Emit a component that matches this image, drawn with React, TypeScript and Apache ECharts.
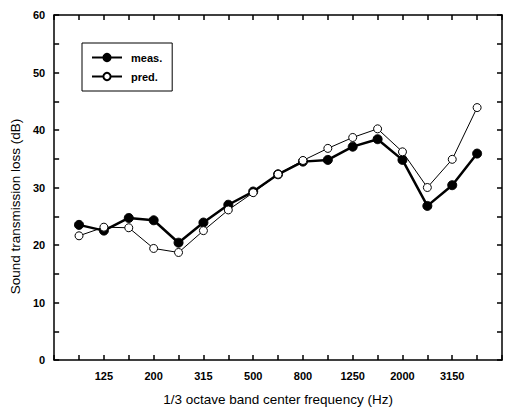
import React, { useEffect, useRef } from "react";
import * as echarts from "echarts";

const categories = ["100", "125", "160", "200", "250", "315", "400", "500", "630", "800", "1000", "1250", "1600", "2000", "2500", "3150", "4000"];
const labelledCategories = ["125", "200", "315", "500", "800", "1250", "2000", "3150"];
const meas = [23.5, 22.5, 24.7, 24.3, 20.4, 23.9, 27.0, 29.3, 32.3, 34.5, 34.8, 37.1, 38.4, 34.8, 26.8, 30.4, 35.9];
const pred = [21.6, 23.1, 23.0, 19.4, 18.7, 22.5, 26.1, 29.1, 32.3, 34.7, 36.8, 38.7, 40.2, 36.2, 30.0, 34.9, 43.9];

const FONT = "Liberation Sans";

export default function App() {
  const ref = useRef<HTMLDivElement>(null);
  useEffect(() => {
    document.body.style.margin = "0";
    if (!ref.current) return;
    const chart = echarts.init(ref.current, undefined, { renderer: "svg" });
    const xLabel = (v: number) => {
      const c = categories[v];
      return c && labelledCategories.includes(c) ? c : "";
    };
    const axisCommon = {
      axisLine: { show: true, onZero: false, lineStyle: { color: "#000", width: 1.5 } },
      axisTick: { show: true, inside: true, length: 5, lineStyle: { color: "#000", width: 1.5 } },
      splitLine: { show: false },
    };
    chart.setOption({
      animation: false,
      backgroundColor: "#fff",
      grid: { left: 52, right: 3, top: 15, bottom: 52 },
      legend: {
        orient: "vertical",
        left: 82,
        top: 43,
        borderColor: "#000",
        borderWidth: 1,
        padding: [9, 10, 9, 9],
        itemGap: 8,
        itemWidth: 30,
        itemHeight: 9,
        textStyle: { fontFamily: FONT, fontSize: 11, fontWeight: "bold", color: "#000", padding: [0, 0, 0, 4] },
        data: ["meas.", "pred."],
      },
      xAxis: [
        {
          type: "value",
          min: -1,
          max: 17,
          interval: 1,
          position: "bottom",
          ...axisCommon,
          axisLabel: { formatter: xLabel, color: "#000", fontFamily: FONT, fontSize: 11, fontWeight: "bold", margin: 10 },
          name: "1/3 octave band center frequency (Hz)",
          nameLocation: "middle",
          nameGap: 32,
          nameTextStyle: { fontFamily: FONT, fontSize: 13.5, color: "#000" },
        },
        {
          type: "value",
          min: -1,
          max: 17,
          interval: 1,
          position: "top",
          ...axisCommon,
          axisLabel: { show: false },
        },
      ],
      yAxis: [
        {
          type: "value",
          min: 0,
          max: 60,
          interval: 5,
          position: "left",
          ...axisCommon,
          axisLabel: {
            formatter: (v: number) => (v % 10 === 0 ? String(v) : ""),
            color: "#000",
            fontFamily: FONT,
            fontSize: 11,
            fontWeight: "bold",
            margin: 9,
          },
          name: "Sound transmission loss (dB)",
          nameLocation: "middle",
          nameGap: 29,
          nameTextStyle: { fontFamily: FONT, fontSize: 13.5, color: "#000", padding: [0, 38, 0, 0] },
        },
        {
          type: "value",
          min: 0,
          max: 60,
          interval: 5,
          position: "right",
          ...axisCommon,
          axisLabel: { show: false },
        },
      ],
      series: [
        {
          name: "meas.",
          type: "line",
          data: meas.map((v, i) => [i, v]),
          symbol: "circle",
          symbolSize: 9,
          lineStyle: { color: "#000", width: 2.5 },
          itemStyle: { color: "#000", borderColor: "#000", borderWidth: 1 },
          z: 2,
        },
        {
          name: "pred.",
          type: "line",
          data: pred.map((v, i) => [i, v]),
          symbol: "circle",
          symbolSize: 8,
          lineStyle: { color: "#000", width: 1 },
          itemStyle: { color: "#fff", borderColor: "#000", borderWidth: 1 },
          z: 3,
        },
      ],
    });
    return () => chart.dispose();
  }, []);
  return <div ref={ref} style={{ width: 505, height: 412 }} />;
}
